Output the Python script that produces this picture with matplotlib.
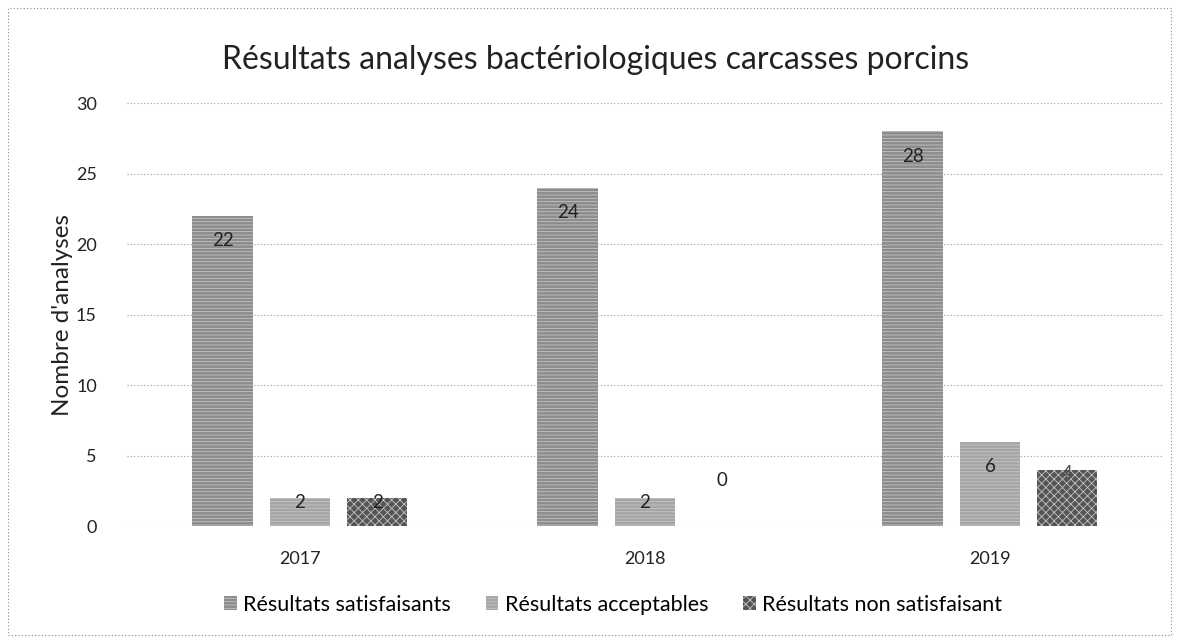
import matplotlib
matplotlib.use("Agg")
import matplotlib.pyplot as plt
from matplotlib.patches import Rectangle
import numpy as np

plt.rcParams['font.family'] = ['Lato', 'DejaVu Sans']
plt.rcParams['hatch.linewidth'] = 0.6

annees = ["2017", "2018", "2019"]
series = ["Résultats satisfaisants", "Résultats acceptables", "Résultats non satisfaisant"]
satisfaisants = [22, 24, 28]
acceptables = [2, 2, 6]
non_satisfaisants = [2, 0, 4]

couleurs = ["#8c8c8c", "#a6a6a6", "#555555"]
hachures = ["-----", "-----", "xxxx"]

fig = plt.figure(figsize=(11.79, 6.44), dpi=100)
ax = fig.add_axes([0.108, 0.183, 0.878, 0.657])

x = np.arange(len(annees))
largeur = 0.175
pas = 0.224
valeurs = [satisfaisants, acceptables, non_satisfaisants]

for i, (vals, nom) in enumerate(zip(valeurs, series)):
    pos = x + (i - 1) * pas
    ax.bar(pos, vals, largeur, color=couleurs[i], edgecolor="#c4c4c4",
           hatch=hachures[i], linewidth=0, label=nom, zorder=2)
    for xp, v in zip(pos, vals):
        # le libellé sombre sur la barre foncée est presque invisible
        coul = "#505050" if i == 2 and v > 2 else "#222222"
        if v == 0:
            ax.annotate(str(v), (xp, 0), xytext=(0, 33), textcoords="offset points",
                        ha="center", va="center", fontsize=13.5, color=coul)
        elif v >= 5:
            ax.annotate(str(v), (xp, v), xytext=(0, -18), textcoords="offset points",
                        ha="center", va="center", fontsize=13.5, color=coul)
        else:
            ax.annotate(str(v), (xp, v), xytext=(0, -3), textcoords="offset points",
                        ha="center", va="center", fontsize=13.5, color=coul)

ax.set_xlim(-0.5, 2.5)
ax.set_ylim(0, 30)
ax.set_yticks(range(0, 31, 5))
ax.set_xticks(x)
ax.set_xticklabels(annees)
ax.tick_params(axis="both", length=0, labelsize=13, colors="#222222")
ax.tick_params(axis="x", pad=18)
ax.tick_params(axis="y", pad=22)
ax.grid(axis="y", linestyle=(0, (1, 2)), color="#999999", linewidth=0.8, zorder=0)
for s in ax.spines.values():
    s.set_visible(False)

ax.set_ylabel("Nombre d'analyses", fontsize=17.5, color="#222222", labelpad=2)
fig.text(0.505, 0.907, "Résultats analyses bactériologiques carcasses porcins",
         ha="center", va="center", fontsize=23, color="#222222")

fig.legend(loc="center", bbox_to_anchor=(0.52, 0.061), ncol=3, frameon=False,
           fontsize=15.5, handlelength=0.6, handleheight=0.6, handletextpad=0.3,
           columnspacing=1.6)

fig.patches.append(Rectangle((0.007, 0.014), 0.986, 0.973, transform=fig.transFigure,
                             fill=False, edgecolor="#888888", linewidth=0.8,
                             linestyle=(0, (1, 2))))

fig.savefig("out.png", dpi=100)
